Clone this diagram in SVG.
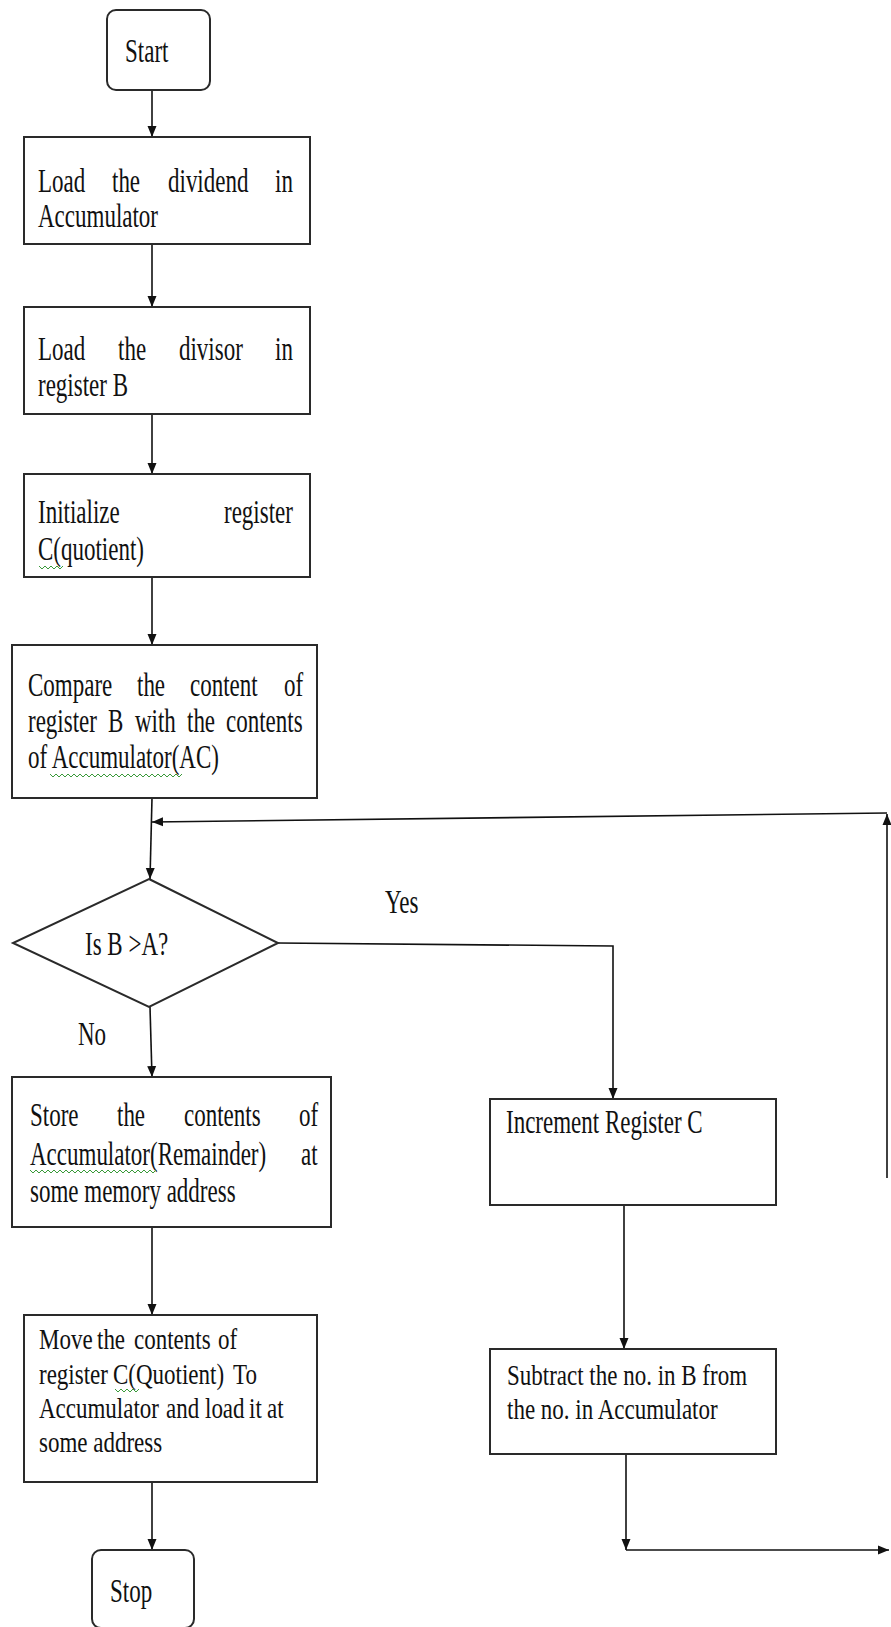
<svg xmlns="http://www.w3.org/2000/svg" width="891" height="1627" viewBox="0 0 891 1627">
  <style>
    .box { fill: #fff; stroke: #2a2a2a; stroke-width: 2; }
    .t { font-family: "Liberation Serif", "Times New Roman", serif; font-size: 23px; fill: #111; }
    .wire { fill: none; stroke: #111; stroke-width: 1.6; }
    .squig { fill: none; stroke: #3a9a3a; stroke-width: 1; }
  </style>
  <defs>
    <marker id="arrow" markerUnits="userSpaceOnUse" markerWidth="12" markerHeight="12" viewBox="0 0 12 12" refX="11" refY="6" orient="auto">
      <path d="M0,1.5 L11,6 L0,10.5 Z" fill="#111"/>
    </marker>
  </defs>
  <rect width="891" height="1627" fill="#fff"/>

  <!-- connectors -->
  <g id="connectors">
    <line class="wire" x1="152" y1="90" x2="152" y2="137" marker-end="url(#arrow)"/>
    <line class="wire" x1="152" y1="244" x2="152" y2="307" marker-end="url(#arrow)"/>
    <line class="wire" x1="152" y1="414" x2="152" y2="474" marker-end="url(#arrow)"/>
    <line class="wire" x1="152" y1="577" x2="152" y2="645" marker-end="url(#arrow)"/>
    <line class="wire" x1="152" y1="798" x2="150" y2="879" marker-end="url(#arrow)"/>
    <!-- loop back from the subtract step -->
    <line class="wire" x1="887" y1="1178" x2="887" y2="814" marker-end="url(#arrow)"/>
    <line class="wire" x1="887" y1="813" x2="152" y2="822" marker-end="url(#arrow)"/>
    <!-- No branch -->
    <line class="wire" x1="150" y1="1007" x2="152" y2="1077" marker-end="url(#arrow)"/>
    <!-- Yes branch -->
    <polyline class="wire" points="278,943 613,946 613,1099" marker-end="url(#arrow)"/>
    <line class="wire" x1="624" y1="1205" x2="624" y2="1349" marker-end="url(#arrow)"/>
    <line class="wire" x1="626" y1="1454" x2="626" y2="1550" marker-end="url(#arrow)"/>
    <line class="wire" x1="626" y1="1550" x2="889" y2="1550" marker-end="url(#arrow)"/>
    <line class="wire" x1="152" y1="1227" x2="152" y2="1315" marker-end="url(#arrow)"/>
    <line class="wire" x1="152" y1="1482" x2="152" y2="1550" marker-end="url(#arrow)"/>
  </g>

  <g id="start">
    <rect class="box" x="107" y="10" width="103" height="80" rx="9"/>
    <text class="t" transform="translate(125 62) scale(1 1.42)">Start</text>
  </g>

  <g id="load-dividend">
    <rect class="box" x="24" y="137" width="286" height="107"/>
    <text class="t" transform="translate(0 192) scale(1 1.42)"><tspan x="38">Load</tspan><tspan x="112">the</tspan><tspan x="168">dividend</tspan><tspan x="275">in</tspan></text>
    <text class="t" transform="translate(38 227) scale(1 1.42)">Accumulator</text>
  </g>

  <g id="load-divisor">
    <rect class="box" x="24" y="307" width="286" height="107"/>
    <text class="t" transform="translate(0 360) scale(1 1.42)"><tspan x="38">Load</tspan><tspan x="118">the</tspan><tspan x="179">divisor</tspan><tspan x="275">in</tspan></text>
    <text class="t" transform="translate(38 396) scale(1 1.42)">register B</text>
  </g>

  <g id="init-c">
    <rect class="box" x="24" y="474" width="286" height="103"/>
    <text class="t" transform="translate(0 523) scale(1 1.42)"><tspan x="38">Initialize</tspan><tspan x="224">register</tspan></text>
    <text class="t" transform="translate(38 560) scale(1 1.42)">C(quotient)</text>
    <path class="squig" d="M39,566 l3,3 l3,-3 l3,3 l3,-3 l3,3 l3,-3 l3,3 l3,-3"/>
  </g>

  <g id="compare">
    <rect class="box" x="12" y="645" width="305" height="153"/>
    <text class="t" transform="translate(0 696) scale(1 1.42)"><tspan x="28">Compare</tspan><tspan x="137">the</tspan><tspan x="190">content</tspan><tspan x="284">of</tspan></text>
    <text class="t" transform="translate(0 732) scale(1 1.42)"><tspan x="28">register</tspan><tspan x="108">B</tspan><tspan x="135">with</tspan><tspan x="187">the</tspan><tspan x="226">contents</tspan></text>
    <text class="t" transform="translate(28 768) scale(1 1.42)">of Accumulator(AC)</text>
    <path class="squig" d="M50,774 l3,3 l3,-3 l3,3 l3,-3 l3,3 l3,-3 l3,3 l3,-3 l3,3 l3,-3 l3,3 l3,-3 l3,3 l3,-3 l3,3 l3,-3 l3,3 l3,-3 l3,3 l3,-3 l3,3 l3,-3 l3,3 l3,-3 l3,3 l3,-3 l3,3 l3,-3 l3,3 l3,-3 l3,3 l3,-3 l3,3 l3,-3 l3,3 l3,-3 l3,3 l3,-3 l3,3 l3,-3 l3,3 l3,-3 l3,3 l3,-3"/>
  </g>

  <g id="decision">
    <polygon class="box" points="149,879 278,943 149,1007 13,943"/>
    <text class="t" transform="translate(85 955) scale(1 1.42)">Is B &gt;A?</text>
  </g>

  <g id="labels">
    <text class="t" transform="translate(385 913) scale(1 1.42)">Yes</text>
    <text class="t" transform="translate(78 1045) scale(1 1.42)">No</text>
  </g>

  <g id="store-remainder">
    <rect class="box" x="12" y="1077" width="319" height="150"/>
    <text class="t" transform="translate(0 1126) scale(1 1.42)"><tspan x="30">Store</tspan><tspan x="117">the</tspan><tspan x="184">contents</tspan><tspan x="299">of</tspan></text>
    <text class="t" transform="translate(0 1165) scale(1 1.42)"><tspan x="30">Accumulator(Remainder)</tspan><tspan x="301">at</tspan></text>
    <text class="t" transform="translate(30 1202) scale(1 1.42)">some memory address</text>
    <path class="squig" d="M30,1170 l3,3 l3,-3 l3,3 l3,-3 l3,3 l3,-3 l3,3 l3,-3 l3,3 l3,-3 l3,3 l3,-3 l3,3 l3,-3 l3,3 l3,-3 l3,3 l3,-3 l3,3 l3,-3 l3,3 l3,-3 l3,3 l3,-3 l3,3 l3,-3 l3,3 l3,-3 l3,3 l3,-3 l3,3 l3,-3 l3,3 l3,-3 l3,3 l3,-3 l3,3 l3,-3 l3,3 l3,-3 l3,3 l3,-3"/>
  </g>

  <g id="move-quotient">
    <rect class="box" x="24" y="1315" width="293" height="167"/>
    <text class="t" transform="translate(0 1349) scale(1 1.3)"><tspan x="39">Move</tspan><tspan x="97">the</tspan><tspan x="134">contents</tspan><tspan x="218">of</tspan></text>
    <text class="t" transform="translate(0 1384) scale(1 1.3)"><tspan x="39">register</tspan><tspan x="113">C(Quotient)</tspan><tspan x="233">To</tspan></text>
    <text class="t" transform="translate(0 1418) scale(1 1.3)"><tspan x="39">Accumulator</tspan><tspan x="166">and</tspan><tspan x="205">load</tspan><tspan x="249">it</tspan><tspan x="267">at</tspan></text>
    <text class="t" transform="translate(39 1452) scale(1 1.3)">some address</text>
    <path class="squig" d="M115,1389 l3,3 l3,-3 l3,3 l3,-3 l3,3 l3,-3 l3,3 l3,-3"/>
  </g>

  <g id="stop">
    <rect class="box" x="92" y="1550" width="102" height="78" rx="9"/>
    <text class="t" transform="translate(110 1602) scale(1 1.42)">Stop</text>
  </g>

  <g id="increment-c">
    <rect class="box" x="490" y="1099" width="286" height="106"/>
    <text class="t" transform="translate(506 1133) scale(1 1.42)">Increment Register C</text>
  </g>

  <g id="subtract">
    <rect class="box" x="490" y="1349" width="286" height="105"/>
    <text class="t" transform="translate(507 1385) scale(1 1.3)">Subtract the no. in B from</text>
    <text class="t" transform="translate(507 1419) scale(1 1.3)">the no. in Accumulator</text>
  </g>
</svg>
